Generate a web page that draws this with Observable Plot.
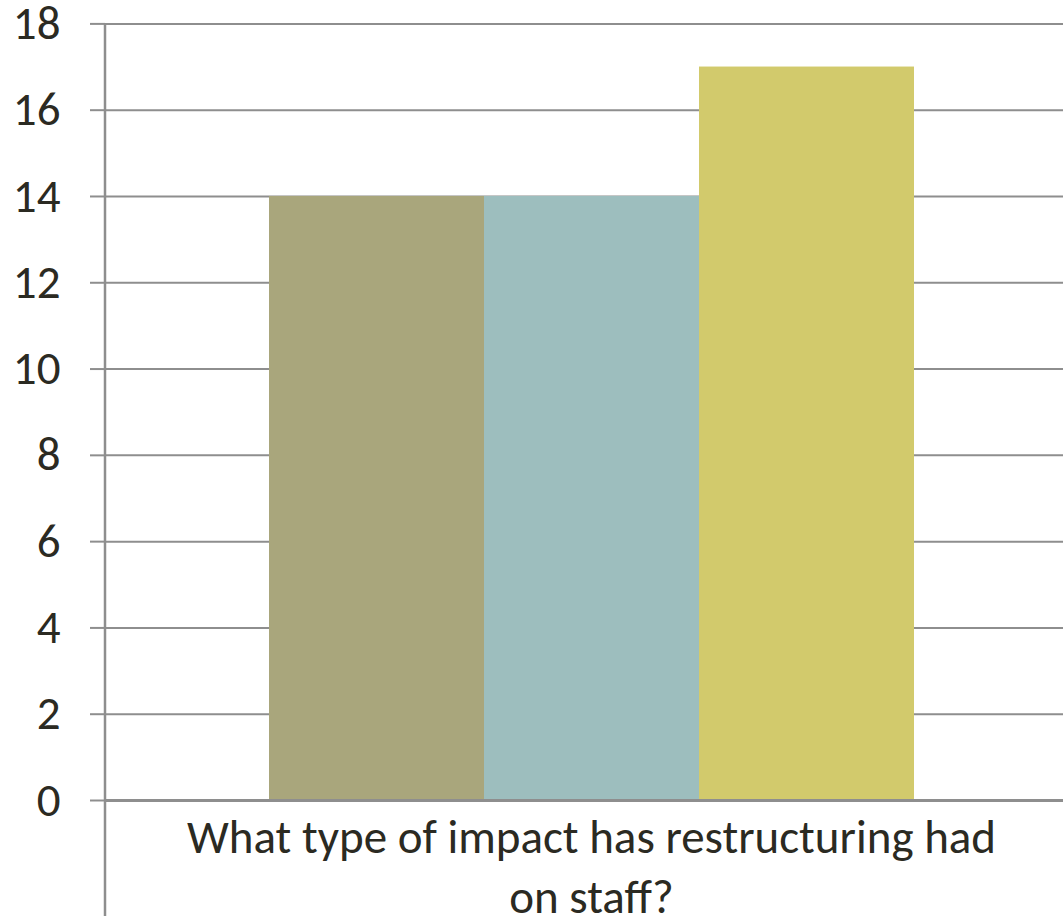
<!DOCTYPE html>
<html>
<head>
<meta charset="utf-8">
<script src="https://cdn.jsdelivr.net/npm/d3@7"></script>
<script src="https://cdn.jsdelivr.net/npm/@observablehq/plot@0.6"></script>
<style>
  html, body { margin: 0; padding: 0; background: #ffffff; }
  #chart svg { display: block; overflow: visible; }
</style>
</head>
<body>
<div id="chart"></div>
<script>
// Survey question and answer counts for the three response groups
const category = "What type of impact has restructuring had on staff?";
const seriesNames = ["Series 1", "Series 2", "Series 3"];
const seriesValues = [14, 14, 17];
const seriesColors = ["#A9A67C", "#9DBEBE", "#D2CA6C"];
const yTicks = [0, 2, 4, 6, 8, 10, 12, 14, 16, 18];

const rows = seriesNames.map((name, i) => ({ name, value: seriesValues[i] }));

const fontFamily = "Carlito, 'Open Sans', Lato, sans-serif";
const textColor = "#2B2A22";
const gridColor = "#8E8E8E";

const W = 1063, H = 916;
const mLeft = 105, mTop = 23.4, mBottom = 116;

const chart = Plot.plot({
  width: W,
  height: H,
  marginLeft: mLeft,
  marginRight: 0,
  marginTop: mTop,
  marginBottom: mBottom,
  style: { fontFamily, color: textColor, background: "#ffffff", overflow: "visible" },
  x: { domain: seriesNames, paddingInner: 0, paddingOuter: 0.7176, align: 0.5226, axis: null },
  y: { domain: [0, 18], ticks: yTicks },
  color: { domain: seriesNames, range: seriesColors },
  marks: [
    Plot.gridY(yTicks, { stroke: gridColor, strokeOpacity: 1, strokeWidth: 2 }),
    Plot.axisY(yTicks, {
      tickSize: 15,
      tickPadding: 30,
      stroke: gridColor,
      strokeWidth: 2,
      strokeOpacity: 1,
      fontSize: 47,
      fill: textColor,
      tickFormat: d => String(d),
      label: null
    }),
    Plot.barY(rows, { x: "name", y: "value", fill: "name" }),
    Plot.ruleY([0], { stroke: gridColor, strokeWidth: 3 }),
    Plot.text([category], {
      text: d => d,
      frameAnchor: "bottom",
      lineAnchor: "top",
      dy: 10,
      dx: 7,
      lineWidth: 21,
      lineHeight: 1.27,
      fontSize: 47,
      fill: textColor
    })
  ]
});

// Vertical axis line running from the top gridline down to the bottom edge
const y = chart.scale("y");
d3.select(chart)
  .append("line")
  .attr("x1", mLeft).attr("x2", mLeft)
  .attr("y1", y.apply(18)).attr("y2", H)
  .attr("stroke", gridColor)
  .attr("stroke-width", 2.5);

document.getElementById("chart").appendChild(chart);
</script>
</body>
</html>
